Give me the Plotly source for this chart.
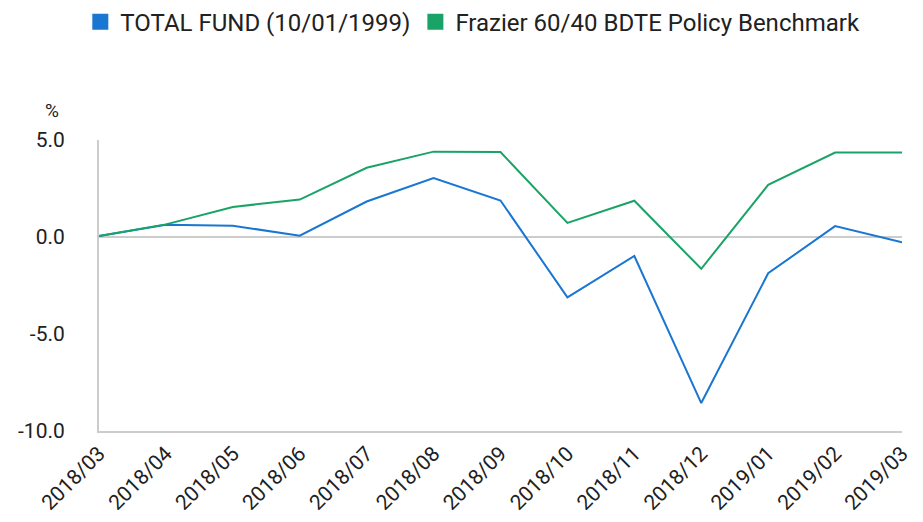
import plotly.graph_objects as go

categories = ["2018/03", "2018/04", "2018/05", "2018/06", "2018/07", "2018/08", "2018/09",
              "2018/10", "2018/11", "2018/12", "2019/01", "2019/02", "2019/03"]
total_fund = [0.05, 0.63, 0.58, 0.07, 1.83, 3.04, 1.88, -3.11, -0.98, -8.56, -1.87, 0.56, -0.27]
benchmark = [0.05, 0.65, 1.55, 1.93, 3.57, 4.40, 4.38, 0.73, 1.87, -1.64, 2.69, 4.35, 4.35]
series_names = ["TOTAL FUND (10/01/1999)", "Frazier 60/40 BDTE Policy Benchmark"]
y_ticks = [-10, -5, 0, 5]
y_tick_labels = ["-10.0", "-5.0", "0.0", "5.0"]

BLUE = "#1976D2"
GREEN = "#1AA367"
FONT = "Roboto"

fig = go.Figure()
fig.add_trace(go.Scatter(x=categories, y=total_fund, mode="lines", name=series_names[0],
                         line=dict(color=BLUE, width=2), showlegend=False))
fig.add_trace(go.Scatter(x=categories, y=benchmark, mode="lines", name=series_names[1],
                         line=dict(color=GREEN, width=2), showlegend=False))
# legend swatches
for name, col in zip(series_names, [BLUE, GREEN]):
    fig.add_trace(go.Scatter(x=[None], y=[None], mode="markers", name=name,
                             marker=dict(symbol="square", size=19, color=col)))

fig.update_layout(
    width=915, height=514,
    margin=dict(l=91, r=21, t=132, b=91, autoexpand=False),
    paper_bgcolor="white", plot_bgcolor="white",
    font=dict(family=FONT, size=21, color="#212121"),
    showlegend=True,
    legend=dict(orientation="h", x=0.508, xanchor="center", xref="container",
                y=1.405, yanchor="middle", yref="paper",
                font=dict(size=24, family=FONT, color="#212121"),
                itemwidth=30, tracegroupgap=0),
    xaxis=dict(type="category", range=[0, 12], showgrid=False, zeroline=False,
               automargin=False,
               showline=True, linecolor="#CCCCCC", linewidth=2,
               tickangle=-45, ticks="", tickfont=dict(size=21, family=FONT, color="#212121")),
    yaxis=dict(range=[-10, 5], tickvals=y_ticks, ticktext=y_tick_labels, showgrid=False,
               automargin=False,
               zeroline=True, zerolinecolor="#CCCCCC", zerolinewidth=2,
               showline=True, linecolor="#CCCCCC", linewidth=2,
               ticks="", ticklabelstandoff=28,
               tickfont=dict(size=21, family=FONT, color="#212121")),
    annotations=[dict(text="%", xref="paper", yref="paper", x=-0.0586, y=1.103,
                      xanchor="center", yanchor="middle",
                      showarrow=False, font=dict(size=19, family=FONT, color="#212121"))],
)

fig.write_html("out.html")
